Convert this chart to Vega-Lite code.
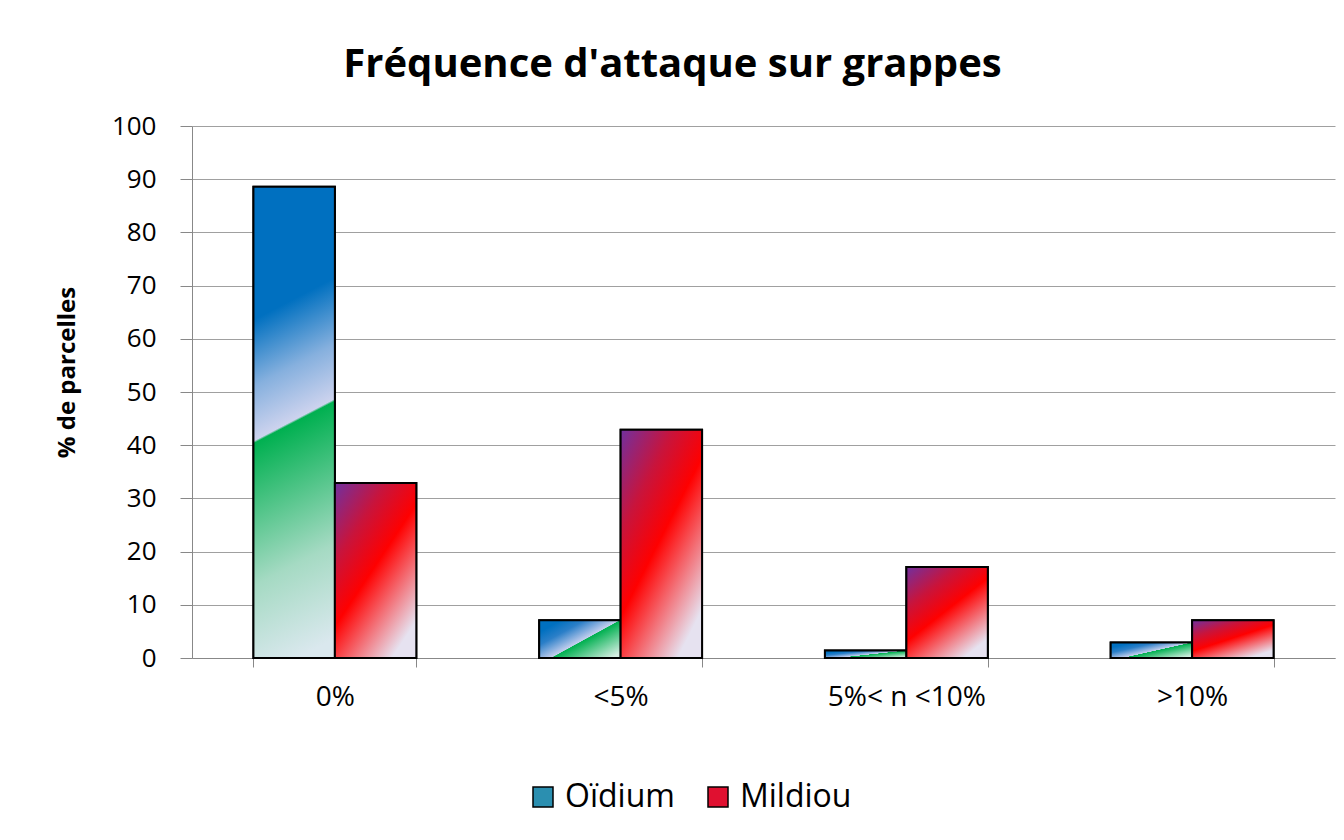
{
  "$schema": "https://vega.github.io/schema/vega-lite/v6.json",
  "autosize": {"type": "none"},
  "padding": {"left": 192, "top": 126, "right": 9, "bottom": 182},
  "width": 1143,
  "height": 532,
  "background": "white",
  "title": {
    "text": "Fréquence d'attaque sur grappes",
    "font": "Open Sans",
    "fontSize": 40,
    "fontWeight": "bold",
    "color": "black",
    "anchor": "middle",
    "dx": -91,
    "offset": 28
  },
  "data": {
    "values": [
      {"classe": "0%", "maladie": "Oïdium", "pct": 88.6},
      {"classe": "0%", "maladie": "Mildiou", "pct": 32.9},
      {"classe": "<5%", "maladie": "Oïdium", "pct": 7.1},
      {"classe": "<5%", "maladie": "Mildiou", "pct": 42.9},
      {"classe": "5%< n <10%", "maladie": "Oïdium", "pct": 1.4},
      {"classe": "5%< n <10%", "maladie": "Mildiou", "pct": 17.1},
      {"classe": ">10%", "maladie": "Oïdium", "pct": 2.9},
      {"classe": ">10%", "maladie": "Mildiou", "pct": 7.1}
    ]
  },
  "encoding": {
    "x": {
      "field": "classe",
      "type": "nominal",
      "sort": ["0%", "<5%", "5%< n <10%", ">10%"],
      "scale": {"paddingInner": 0.43, "paddingOuter": 0.215},
      "axis": {
        "title": null,
        "labelAngle": 0,
        "labelFont": "Open Sans",
        "labelFontSize": 28,
        "labelColor": "black",
        "labelPadding": 16,
        "tickBand": "extent",
        "tickSize": 9,
        "tickColor": "#888888",
        "domainColor": "#888888",
        "grid": false
      }
    },
    "xOffset": {
      "field": "maladie",
      "type": "nominal",
      "sort": ["Oïdium", "Mildiou"],
      "scale": {"paddingInner": 0, "paddingOuter": 0}
    },
    "y": {
      "field": "pct",
      "type": "quantitative",
      "scale": {"domain": [0, 100], "nice": false},
      "axis": {
        "title": "% de parcelles",
        "titleFont": "Open Sans",
        "titleFontSize": 24,
        "titleFontWeight": "bold",
        "titleColor": "black",
        "titlePadding": 32,
        "titleY": 246,
        "values": [0, 10, 20, 30, 40, 50, 60, 70, 80, 90, 100],
        "labelFont": "Open Sans",
        "labelFontSize": 26,
        "labelColor": "black",
        "labelPadding": 24,
        "tickSize": 12,
        "tickColor": "#888888",
        "domainColor": "#888888",
        "grid": true,
        "gridColor": "#a0a0a0",
        "gridWidth": 1
      }
    }
  },
  "layer": [
    {
      "mark": {"type": "bar", "stroke": "black", "strokeWidth": 2},
      "encoding": {
        "color": {
          "field": "maladie",
          "type": "nominal",
          "sort": ["Oïdium", "Mildiou"],
          "scale": {"domain": ["Oïdium", "Mildiou"], "range": ["#2b8fb0", "#e01030"]},
          "legend": {
            "title": null,
            "orient": "none",
            "legendX": 335,
            "legendY": 655,
            "direction": "horizontal",
            "columns": 2,
            "columnPadding": 27,
            "symbolType": "square",
            "symbolSize": 400,
            "symbolOpacity": 1,
            "symbolStrokeColor": "black",
            "symbolStrokeWidth": 1.5,
            "labelFont": "Open Sans",
            "labelFontSize": 32,
            "labelColor": "black",
            "labelOffset": 6,
            "labelLimit": 300
          }
        }
      }
    },
    {
      "mark": {"type": "bar", "stroke": "black", "strokeWidth": 2},
      "encoding": {
        "fill": {
          "condition": [
            {
              "test": "datum.maladie === 'Oïdium' && datum.pct > 50",
              "value": {
                "gradient": "linear",
                "x1": 0.545, "y1": 1, "x2": 0.455, "y2": 0,
                "stops": [
                  {"offset": 0, "color": "#dae8ee"},
                  {"offset": 0.2, "color": "#a5dac3"},
                  {"offset": 0.5, "color": "#00b050"},
                  {"offset": 0.505, "color": "#cdd3ee"},
                  {"offset": 0.62, "color": "#86b0de"},
                  {"offset": 0.76, "color": "#0070c0"},
                  {"offset": 1, "color": "#0070c0"}
                ]
              }
            },
            {
              "test": "datum.maladie === 'Oïdium'",
              "value": {
                "gradient": "linear",
                "x1": 1, "y1": 0.86, "x2": 0.15, "y2": 0.14,
                "stops": [
                  {"offset": 0, "color": "#d5eee2"},
                  {"offset": 0.5, "color": "#00b050"},
                  {"offset": 0.51, "color": "#c4cfee"},
                  {"offset": 0.8, "color": "#2b7fc8"},
                  {"offset": 1, "color": "#0070c0"}
                ]
              }
            }
          ],
          "value": {
            "gradient": "linear",
            "x1": 0.7, "y1": 1, "x2": 0, "y2": 0,
            "stops": [
              {"offset": 0, "color": "#e6e2f0"},
              {"offset": 0.45, "color": "#ff0000"},
              {"offset": 0.7, "color": "#c8143c"},
              {"offset": 1, "color": "#7030a0"}
            ]
          }
        }
      }
    }
  ],
  "config": {
    "view": {"stroke": null}
  }
}
